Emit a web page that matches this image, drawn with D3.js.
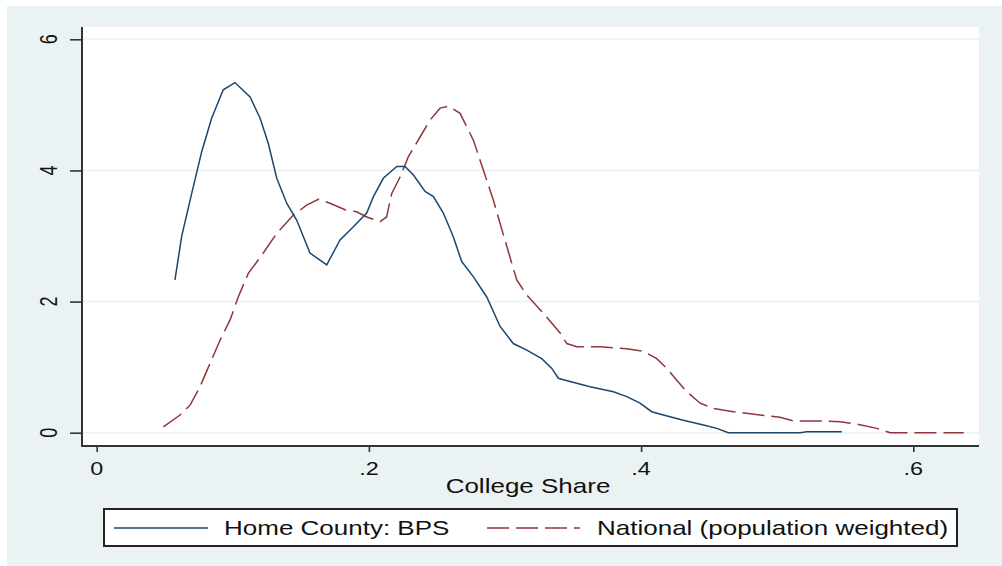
<!DOCTYPE html>
<html><head><meta charset="utf-8">
<script src="https://cdn.jsdelivr.net/npm/d3@7"></script>
<style>
html,body{margin:0;padding:0;background:#fff;}
text{font-family:"Liberation Sans",Arial,sans-serif;fill:#111;}
</style></head>
<body>
<script>
// Home County: BPS kernel density
const bpsX = [0.0575,0.0624,0.0698,0.0772,0.0845,0.093,0.1016,0.1127,0.12,0.1261,0.1323,0.1396,0.147,0.1567,0.169,0.1788,0.1886,0.1984,0.2033,0.2106,0.2205,0.2266,0.2327,0.2413,0.2474,0.2547,0.262,0.2682,0.2767,0.2866,0.2964,0.3061,0.316,0.327,0.3344,0.3392,0.3478,0.3625,0.3796,0.3895,0.3992,0.4078,0.4164,0.431,0.4458,0.4556,0.4641,0.5168,0.5217,0.5475];
const bpsY = [2.33,2.99,3.65,4.29,4.80,5.23,5.34,5.12,4.80,4.41,3.88,3.50,3.24,2.74,2.56,2.94,3.14,3.35,3.60,3.88,4.06,4.06,3.93,3.68,3.60,3.35,2.99,2.61,2.38,2.07,1.62,1.36,1.26,1.13,0.98,0.83,0.78,0.70,0.625,0.55,0.45,0.32,0.27,0.19,0.117,0.066,0.0,0.0,0.015,0.015];
// National (population weighted) kernel density
const natX = [0.049,0.0612,0.0686,0.0759,0.0833,0.0906,0.098,0.104,0.1114,0.1224,0.1323,0.1445,0.1543,0.1628,0.1714,0.1825,0.191,0.1984,0.2082,0.213,0.2168,0.2229,0.229,0.2376,0.245,0.2523,0.2584,0.267,0.2768,0.284,0.2914,0.2964,0.3086,0.316,0.3282,0.3405,0.3454,0.3527,0.3699,0.3895,0.4017,0.4115,0.4189,0.4262,0.4336,0.4434,0.4531,0.4678,0.4874,0.5021,0.5119,0.529,0.5462,0.5585,0.5732,0.583,0.637];
const natY = [0.09,0.27,0.42,0.70,1.06,1.41,1.72,2.07,2.43,2.74,3.04,3.32,3.47,3.56,3.50,3.40,3.37,3.29,3.22,3.29,3.65,3.90,4.21,4.51,4.77,4.95,4.98,4.87,4.46,4.01,3.55,3.19,2.33,2.10,1.82,1.52,1.36,1.31,1.31,1.28,1.24,1.13,0.98,0.80,0.625,0.45,0.37,0.32,0.27,0.235,0.18,0.18,0.168,0.133,0.066,0.0,0.0];
const xTicks = [0,0.2,0.4,0.6];
const xTickLabels = ["0",".2",".4",".6"];
const yTicks = [0,2,4,6];
const yTickLabels = ["0","2","4","6"];
const seriesNames = ["Home County: BPS","National (population weighted)"];
const xTitle = "College Share";

const W=1002,H=566, SX=1.3;
const blue="#1a476f", red="#90353b", bg="#eaf2f3";
const svg=d3.select("body").append("svg").attr("width",W).attr("height",H);
svg.append("rect").attr("x",7).attr("y",6).attr("width",W-7).attr("height",H-6).attr("fill",bg);
const pl=82, pt=27, pr=979, pb=446;
svg.append("rect").attr("x",pl).attr("y",pt).attr("width",pr-pl).attr("height",pb-pt).attr("fill","#fff");

const x=d3.scaleLinear().domain([0,0.6]).range([96.7,913.3]);
const y=d3.scaleLinear().domain([0,6]).range([432.7,39.3]);

// grid
svg.append("g").selectAll("line").data(yTicks).join("line")
  .attr("x1",pl).attr("x2",pr).attr("y1",d=>y(d)).attr("y2",d=>y(d))
  .attr("stroke",bg).attr("stroke-width",1.5);

// y axis
const ya=svg.append("g").attr("transform",`translate(${pl},0)`)
  .call(d3.axisLeft(y).tickValues(yTicks).tickSize(12).tickSizeOuter(0).tickFormat(""));
ya.select(".domain").remove();
ya.selectAll("line").attr("stroke","#333").attr("stroke-width",1.6);
svg.append("g").selectAll("text").data(yTicks).join("text")
  .attr("transform",d=>`translate(57,${y(d)}) scale(${SX},1) rotate(-90)`)
  .attr("text-anchor","middle").attr("font-size",18).text((d,i)=>yTickLabels[i]);

// x axis
const xa=svg.append("g").attr("transform",`translate(0,${pb})`)
  .call(d3.axisBottom(x).tickValues(xTicks).tickSize(6).tickSizeOuter(0).tickFormat(""));
xa.select(".domain").remove();
xa.selectAll("line").attr("stroke","#333").attr("stroke-width",1.6);
svg.append("g").selectAll("text").data(xTicks).join("text")
  .attr("transform",d=>`translate(${x(d)},475) scale(${SX},1)`)
  .attr("text-anchor","middle").attr("font-size",18).text((d,i)=>xTickLabels[i]);

svg.append("line").attr("x1",pl).attr("x2",pl).attr("y1",pt).attr("y2",pb+1).attr("stroke","#333").attr("stroke-width",2);
svg.append("line").attr("x1",pl).attr("x2",pr).attr("y1",pb).attr("y2",pb).attr("stroke","#333").attr("stroke-width",2);

svg.append("text").attr("transform",`translate(528,493) scale(${SX},1)`)
  .attr("text-anchor","middle").attr("font-size",20).text(xTitle);

const line=d3.line().x(d=>x(d[0])).y(d=>y(d[1]));
svg.append("path").datum(natX.map((v,i)=>[v,natY[i]])).attr("d",line)
  .attr("fill","none").attr("stroke",red).attr("stroke-width",1.5).attr("stroke-dasharray","22,7");
svg.append("path").datum(bpsX.map((v,i)=>[v,bpsY[i]])).attr("d",line)
  .attr("fill","none").attr("stroke",blue).attr("stroke-width",1.5);

// legend
const lg=svg.append("g");
lg.append("rect").attr("x",104).attr("y",509).attr("width",853).attr("height",37)
  .attr("fill","#fff").attr("stroke","#222").attr("stroke-width",2);
lg.append("line").attr("x1",114).attr("x2",208).attr("y1",528).attr("y2",528).attr("stroke",blue).attr("stroke-width",1.5);
lg.append("text").attr("transform",`translate(224,535) scale(${SX},1)`).attr("font-size",20).text(seriesNames[0]);
lg.append("line").attr("x1",487).attr("x2",580).attr("y1",528).attr("y2",528).attr("stroke",red).attr("stroke-width",1.5).attr("stroke-dasharray","22,7");
lg.append("text").attr("transform",`translate(597,535) scale(${SX},1)`).attr("font-size",20).text(seriesNames[1]);
</script>
</body></html>
